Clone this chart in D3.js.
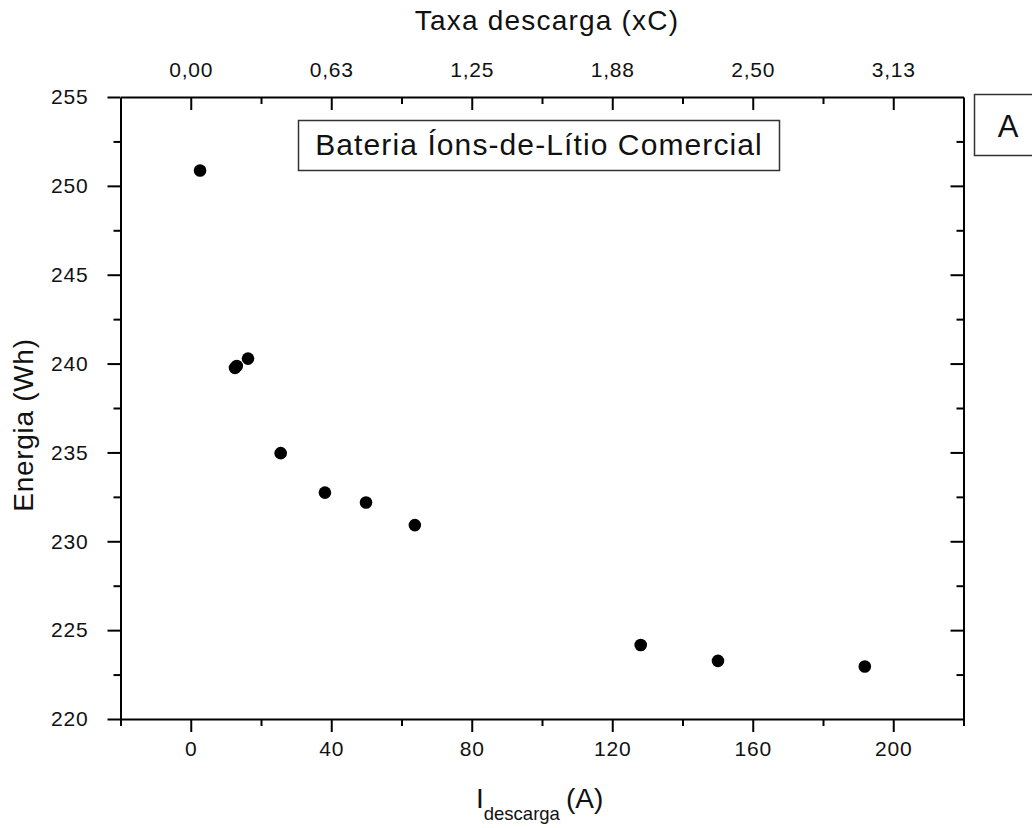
<!DOCTYPE html>
<html>
<head>
<meta charset="utf-8">
<script src="https://cdn.jsdelivr.net/npm/d3@7"></script>
<style>
  body { margin: 0; background: #fff; }
  svg text { font-family: "Liberation Sans", Arial, sans-serif; fill: #111; }
</style>
</head>
<body>
<svg id="chart" width="1032" height="828"></svg>
<script>
// discharge current (A) and measured energy (Wh)
const current = [2.65, 12.6, 13.1, 16.3, 25.6, 38.2, 49.9, 63.8, 128.1, 150.1, 191.9];
const energy  = [250.86, 239.76, 239.86, 240.28, 234.96, 232.74, 232.18, 230.91, 224.16, 223.27, 222.95];

// axis ticks
const xMajor = [0, 40, 80, 120, 160, 200];
const xMinor = [-20, 20, 60, 100, 140, 180, 220];
const yMajor = [220, 225, 230, 235, 240, 245, 250, 255];
const yMinor = [222.5, 227.5, 232.5, 237.5, 242.5, 247.5, 252.5];

// nominal capacity (Ah) used for the C-rate on the top axis
const capacity = 64;

const svg = d3.select("#chart");

const x = d3.scaleLinear().domain([-20, 220]).range([120.5, 963.5]);
const y = d3.scaleLinear().domain([220, 255]).range([719, 97]);

const xLeft = x.range()[0], xRight = x.range()[1];
const yTop = y.range()[1], yBottom = y.range()[0];

function styleAxis(g) {
    g.selectAll("path, line").attr("stroke", "#000").attr("stroke-width", 2);
    g.selectAll("text").attr("fill", "#111").style("font-size", "21px")
        .style("letter-spacing", "0.8px").attr("font-family", null);
}

// bottom axis
svg.append("g")
    .attr("transform", `translate(0,${yBottom})`)
    .call(d3.axisBottom(x).tickValues(xMinor).tickSize(7).tickSizeOuter(0).tickFormat(""))
    .call(styleAxis);
svg.append("g")
    .attr("transform", `translate(0,${yBottom})`)
    .call(d3.axisBottom(x).tickValues(xMajor).tickSize(13).tickSizeOuter(0).tickPadding(9))
    .call(styleAxis)
    .call(g => g.select(".domain").remove());

// top axis (C-rate), ticks point inward
svg.append("g")
    .attr("transform", `translate(0,${yTop})`)
    .call(d3.axisTop(x).tickValues(xMinor.slice(1, -1)).tickSize(-7).tickSizeOuter(0).tickFormat(""))
    .call(styleAxis);
svg.append("g")
    .attr("transform", `translate(0,${yTop})`)
    .call(d3.axisTop(x).tickValues(xMajor).tickSize(-13).tickSizeOuter(0).tickPadding(20)
        .tickFormat(d => (d / capacity).toFixed(2).replace(".", ",")))
    .call(styleAxis)
    .call(g => g.select(".domain").remove());

// left axis
svg.append("g")
    .attr("transform", `translate(${xLeft},0)`)
    .call(d3.axisLeft(y).tickValues(yMinor).tickSize(7).tickSizeOuter(0).tickFormat(""))
    .call(styleAxis);
svg.append("g")
    .attr("transform", `translate(${xLeft},0)`)
    .call(d3.axisLeft(y).tickValues(yMajor).tickSize(13).tickSizeOuter(0).tickPadding(19))
    .call(styleAxis)
    .call(g => g.select(".domain").remove());

// right axis, ticks inward, no labels
svg.append("g")
    .attr("transform", `translate(${xRight},0)`)
    .call(d3.axisRight(y).tickValues(yMinor).tickSize(-7).tickSizeOuter(0).tickFormat(""))
    .call(styleAxis);
svg.append("g")
    .attr("transform", `translate(${xRight},0)`)
    .call(d3.axisRight(y).tickValues(yMajor.slice(1, -1)).tickSize(-13).tickSizeOuter(0).tickFormat(""))
    .call(styleAxis)
    .call(g => g.select(".domain").remove());

// data points
svg.append("g")
  .selectAll("circle")
    .data(current.map((c, i) => [c, energy[i]]))
  .enter()
  .append("circle")
    .attr("cx", d => x(d[0]))
    .attr("cy", d => y(d[1]))
    .attr("r", 6.3)
    .attr("fill", "#000");

// legend box
svg.append("rect")
    .attr("x", 298.5).attr("y", 120.5)
    .attr("width", 481).attr("height", 50)
    .attr("fill", "#fff").attr("stroke", "#333").attr("stroke-width", 1.5);
svg.append("text")
    .attr("x", 539).attr("y", 155)
    .attr("text-anchor", "middle")
    .style("font-size", "30px").style("letter-spacing", "1.1px")
    .text("Bateria Íons-de-Lítio Comercial");

// panel letter
svg.append("rect")
    .attr("x", 974.5).attr("y", 94.5)
    .attr("width", 80).attr("height", 61)
    .attr("fill", "#fff").attr("stroke", "#333").attr("stroke-width", 1.5);
svg.append("text")
    .attr("x", 1008).attr("y", 137)
    .attr("text-anchor", "middle")
    .style("font-size", "31px")
    .text("A");

// axis titles
svg.append("text")
    .attr("x", 547).attr("y", 30)
    .attr("text-anchor", "middle")
    .style("font-size", "28px").style("letter-spacing", "1.2px")
    .text("Taxa descarga (xC)");

svg.append("text")
    .attr("transform", "translate(33,425) rotate(-90)")
    .attr("text-anchor", "middle")
    .style("font-size", "28px").style("letter-spacing", "0.7px")
    .text("Energia (Wh)");

const xl = svg.append("text")
    .attr("x", 476).attr("y", 808)
    .style("font-size", "28px");
xl.append("tspan").text("I");
xl.append("tspan").attr("dy", 12).style("font-size", "18.5px").text("descarga");
xl.append("tspan").attr("dy", -12).attr("dx", 6).text("(A)");
</script>
</body>
</html>
